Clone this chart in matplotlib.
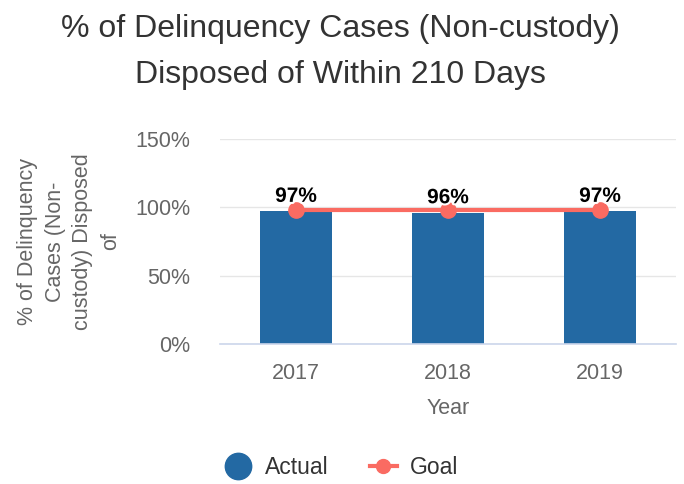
import matplotlib
matplotlib.use("Agg")
import matplotlib.pyplot as plt
import matplotlib.patheffects as pe
from matplotlib.lines import Line2D

plt.rcParams['font.family'] = ['Liberation Sans', 'DejaVu Sans']

years = ["2017", "2018", "2019"]
actual = [97, 96, 97]
goal = [98, 98, 98]
y_ticks = [0, 50, 100, 150]
title_lines = ["% of Delinquency Cases (Non-custody)", "Disposed of Within 210 Days"]

bar_color = "#2369a3"
goal_color = "#fa6b62"
grey = "#666666"
dark = "#333333"

fig = plt.figure(figsize=(6.84, 4.84), dpi=100)
ax = fig.add_axes([0.3216, 0.2893, 0.6667, 0.4235])

x = list(range(len(years)))
ax.bar(x, actual, width=0.47, color=bar_color, zorder=2)
ax.plot(x, goal, color=goal_color, lw=3, marker="o", ms=11, zorder=3)

for xi, v in zip(x, actual):
    ax.text(xi, v + 7, f"{v}%", ha="center", va="baseline", fontsize=15,
            fontweight="bold", color="black", zorder=4,
            path_effects=[pe.withStroke(linewidth=3, foreground="white")])

ax.set_xlim(-0.5, len(years) - 0.5)
ax.set_ylim(0, 150)
ax.set_yticks(y_ticks)
ax.set_yticklabels([f"{t}%" for t in y_ticks])
ax.set_xticks(x)
ax.set_xticklabels(years)
ax.tick_params(axis="both", length=0, labelsize=15.5, labelcolor=grey)
ax.tick_params(axis="y", pad=21.5)
ax.tick_params(axis="x", pad=14)
ax.grid(axis="y", color="#e6e6e6", lw=1, zorder=0)
ax.set_axisbelow(True)
for s in ["top", "right", "left"]:
    ax.spines[s].set_visible(False)
ax.spines["bottom"].set_color("#ccd6eb")
ax.spines["bottom"].set_linewidth(1.2)
ax.spines["bottom"].set_zorder(5)

ax.set_xlabel("Year", fontsize=15.5, color=grey, labelpad=10)
ax.set_ylabel("% of Delinquency\nCases (Non-\ncustody) Disposed\nof", fontsize=15.5,
              color=grey, linespacing=1.42, labelpad=10)

fig.text(0.497, 1 - 37 / 484, title_lines[0], ha="center", va="baseline",
         fontsize=23, color=dark)
fig.text(0.497, 1 - 83 / 484, title_lines[1], ha="center", va="baseline",
         fontsize=23, color=dark)

handles = [
    Line2D([], [], ls="none", marker="o", ms=19, color=bar_color),
    Line2D([], [], color=goal_color, lw=3, marker="o", ms=10),
]
fig.legend(handles, ["Actual", "Goal"], loc="center", bbox_to_anchor=(0.5, 0.035),
           ncol=2, frameon=False, fontsize=16.5, handlelength=1.15, columnspacing=1.8,
           handletextpad=0.6, labelcolor=dark)

fig.savefig("out.png", dpi=100, facecolor="white")
